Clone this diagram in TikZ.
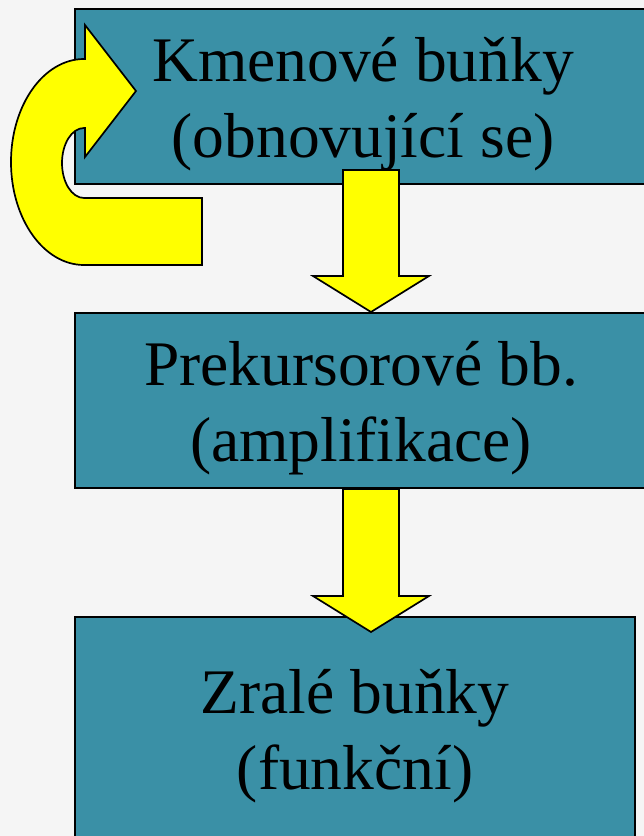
\documentclass[tikz,border=0pt]{standalone}
\usepackage{fontspec}
\setmainfont{Liberation Serif}
\usetikzlibrary{calc}
\definecolor{pagebg}{RGB}{245,245,245}
\definecolor{stagefill}{RGB}{58,144,166}
\definecolor{flowyellow}{RGB}{255,255,0}
\tikzset{
  stagebox/.style={draw=black, line width=2pt, fill=stagefill, inner sep=0pt},
  stagetext/.style={anchor=base, align=center, inner sep=0pt,
    font=\fontsize{63.5}{76}\selectfont},
  yarrow/.style={draw=black, line width=1.7pt, fill=flowyellow, line join=miter},
}
\begin{document}
\begin{tikzpicture}[x=1pt, y=-1pt]
  \useasboundingbox (0,0) rectangle (644,836);
  \clip (0,0) rectangle (644,836);
  \fill[pagebg] (0,0) rectangle (644,836);

  % the three stages
  \node[stagebox, minimum width=576pt, minimum height=175pt] (b1) at (363,96.5) {};
  \node[stagebox, minimum width=576pt, minimum height=175pt] (b2) at (363,400.5) {};
  \node[stagebox, minimum width=560pt, minimum height=229pt] (b3) at (355,731.5) {};

  % labels, anchored at the baseline of their last line
  \node[stagetext] (t1) at ($(b1.north)+(0,149)$) {Kmenové buňky\\(obnovující se)};
  \node[stagetext] (t2) at ($(b2.north)+(-2,149)$) {Prekursorové bb.\\(amplifikace)};
  \node[stagetext] (t3) at ($(b3.north)+(0,173)$) {Zralé buňky\\(funkční)};

  % self-renewal loop on the stem cells
  \begin{scope}[shift={(b1.south west)}]
    \coordinate (loopend) at (128,13);
    \coordinate (looptip) at (62,-94);
    \draw[yarrow] (loopend) -- (128,80) -- (10,80)
      arc[start angle=90, end angle=270, x radius=73, y radius=103]
      -- (11,-126) -- (11,-160) -- (looptip) -- (11,-28) -- (11,-57) -- (10,-57)
      arc[start angle=270, end angle=90, x radius=22, y radius=35]
      -- cycle;
  \end{scope}

  % stage to stage transitions
  \coordinate (a1s) at ($(b1.south)+(8,-15)$);
  \coordinate (a1t) at (a1s |- b2.north);
  \draw[yarrow] ($(a1s)+(-28,0)$) -- ($(a1t)+(-28,-36)$) -- ($(a1t)+(-58,-36)$)
    -- (a1t) -- ($(a1t)+(58,-36)$) -- ($(a1t)+(28,-36)$) -- ($(a1s)+(28,0)$) -- cycle;

  \coordinate (a2s) at ($(b2.south)+(8,0)$);
  \coordinate (a2t) at ($(a2s |- b3.north)+(0,16)$);
  \draw[yarrow] ($(a2s)+(-28,0)$) -- ($(a2t)+(-28,-36)$) -- ($(a2t)+(-58,-36)$)
    -- (a2t) -- ($(a2t)+(58,-36)$) -- ($(a2t)+(28,-36)$) -- ($(a2s)+(28,0)$) -- cycle;
\end{tikzpicture}
\end{document}
